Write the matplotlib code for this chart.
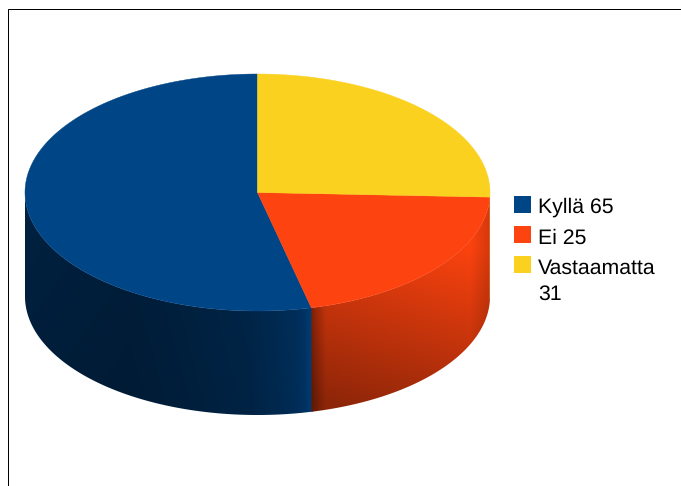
import numpy as np
import matplotlib
matplotlib.use('Agg')
import matplotlib.pyplot as plt
from matplotlib.patches import Polygon

# Vastaukset
nimet = ['Kyllä', 'Ei', 'Vastaamatta']
arvot = [65, 25, 31]
varit = ['#004586', '#fd430f', '#fbd120']

LEVEYS, KORKEUS = 681, 486
CX, CY = 257.5, 192.5   # piirakan keskipiste
RX, RY = 232.5, 118.5   # ellipsin säteet
SYVYYS = 104            # reunan korkeus

plt.rcParams['font.family'] = ['Liberation Sans', 'DejaVu Sans']
plt.rcParams['text.hinting'] = 'none'

fig = plt.figure(figsize=(LEVEYS / 100, KORKEUS / 100), dpi=100)
ax = fig.add_axes([0, 0, 1, 1])
ax.set_xlim(0, LEVEYS)
ax.set_ylim(KORKEUS, 0)
ax.axis('off')
ax.set_autoscale_on(False)


def kaari(a0, a1, dy=0, n=200):
    t = np.radians(np.linspace(a0, a1, n))
    return np.column_stack([CX + RX * np.cos(t), CY + dy - RY * np.sin(t)])


def varjo_sininen(x, y):
    k = np.interp(x, [25, 130, 250, 295, 305, 312], [0.47, 0.43, 0.55, 0.68, 0.76, 0.92])
    return k - 0.04 * (y - 250) / 150


def varjo_punainen(x, y):
    yy = y - 0.3 * (x - 320)
    k = np.interp(yy, [200, 400], [1.0, 0.56])
    k = k * np.interp(x, [312, 316, 326], [0.66, 0.78, 1.0])
    return k * np.interp(x, [470, 490], [1.0, 0.84])


def varjo_keltainen(x, y):
    return 0.9 * np.ones_like(x, dtype=float)


varjot = [varjo_sininen, varjo_punainen, varjo_keltainen]

# Sektorien kulmat: alku ylhäältä, vastapäivään
kulmat = 90 + np.cumsum([0] + arvot) / sum(arvot) * 360

xx, yy = np.meshgrid(np.arange(0, LEVEYS) + 0.5, np.arange(0, KORKEUS) + 0.5)

# Reuna: vain etupuolen sektorit (180-360 astetta)
for i in range(len(arvot)):
    for siirto in (0, 360):
        a0 = max(kulmat[i] - siirto, 180)
        a1 = min(kulmat[i + 1] - siirto, 360)
        if a1 <= a0:
            continue
        # pieni limitys, ettei sektorien väliin jää vaaleaa saumaa
        yla = kaari(a0, min(a1 + 0.4, 360))
        ala = kaari(min(a1 + 0.4, 360), a0, dy=SYVYYS)
        muoto = Polygon(np.vstack([yla, ala]), closed=True, fc='none', ec='none',
                        transform=ax.transData)
        ax.add_patch(muoto)
        vari = np.array(matplotlib.colors.to_rgb(varit[i]))
        k = np.clip(varjot[i](xx, yy), 0, 1)
        kuva = k[..., None] * vari
        im = ax.imshow(kuva, extent=(0, LEVEYS, KORKEUS, 0), interpolation='bilinear',
                       aspect='auto', zorder=2)
        im.set_clip_path(muoto)

# Kansi
for i in range(len(arvot)):
    piste = np.vstack([[CX, CY], kaari(kulmat[i], kulmat[i + 1])])
    ax.add_patch(Polygon(piste, closed=True, fc=varit[i], ec=varit[i], lw=0.3, zorder=3))

# Selite
laatat = [196, 226, 256]
perusviivat = [213, 243.5, 274]
for i, nimi in enumerate(nimet):
    ax.add_patch(plt.Rectangle((514, laatat[i]), 17, 16.5, fc=varit[i], ec='none', zorder=3))
    if nimi == 'Vastaamatta':
        ax.text(538, perusviivat[i], nimi, fontsize=15.3, color='black', va='baseline')
        ax.text(538, perusviivat[i] + 26, str(arvot[i]), fontsize=15.3, color='black', va='baseline')
    else:
        ax.text(538, perusviivat[i], f'{nimi} {arvot[i]}', fontsize=15.3, color='black', va='baseline')

# Kehys vasemmalla ja ylhäällä
ax.plot([8, 8, LEVEYS], [KORKEUS, 9.5, 9.5], color='black', lw=0.72,
        solid_joinstyle='miter', zorder=4)

fig.savefig('out.png', dpi=100)
